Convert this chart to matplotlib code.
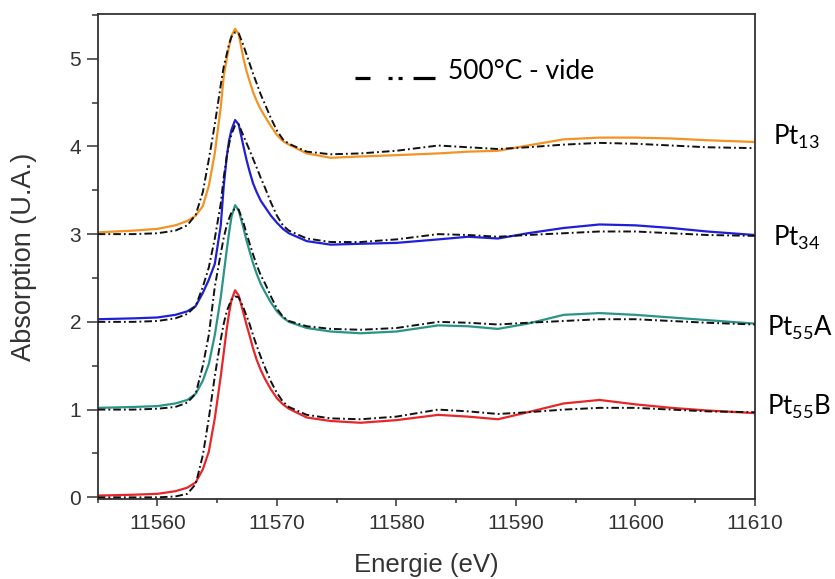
import numpy as np
import matplotlib
matplotlib.use("Agg")
import matplotlib.pyplot as plt
from matplotlib.ticker import MultipleLocator

plt.rcParams['lines.scale_dashes'] = False

# energy grid (eV)
energy = [11555, 11558, 11560, 11561.5, 11562.5, 11563.2, 11563.8, 11564.3, 11564.8,
          11565.3, 11565.55, 11565.8, 11566.0, 11566.2, 11566.5, 11566.8, 11567.2,
          11567.45, 11567.7, 11568.0, 11568.3, 11568.65, 11569.0, 11569.5, 11570.0,
          11570.5, 11571.0, 11572.5, 11574.5, 11577, 11580, 11583.5, 11586, 11588.5,
          11591, 11594, 11597, 11600, 11603, 11606, 11610]

# solid curves (already offset)
pt55b = [0.02, 0.03, 0.04, 0.07, 0.11, 0.17, 0.32, 0.52, 0.90, 1.38, 1.65, 1.92, 2.10, 2.25,
         2.36, 2.30, 2.10, 1.97, 1.85, 1.70, 1.57, 1.45, 1.35, 1.23, 1.13, 1.06, 1.01, 0.91,
         0.87, 0.85, 0.88, 0.94, 0.92, 0.89, 0.97, 1.07, 1.11, 1.06, 1.02, 0.99, 0.96]
pt55a = [1.02, 1.03, 1.04, 1.07, 1.11, 1.18, 1.33, 1.52, 1.85, 2.28, 2.55, 2.82, 3.02, 3.20,
         3.33, 3.27, 3.07, 2.93, 2.81, 2.67, 2.55, 2.43, 2.34, 2.22, 2.12, 2.05, 2.00, 1.93,
         1.89, 1.87, 1.89, 1.96, 1.95, 1.92, 1.98, 2.08, 2.10, 2.08, 2.05, 2.02, 1.98]
pt34 = [2.03, 2.04, 2.05, 2.08, 2.12, 2.18, 2.33, 2.48, 2.66, 3.10, 3.55, 3.88, 4.07, 4.19,
        4.30, 4.25, 4.00, 3.85, 3.72, 3.58, 3.48, 3.38, 3.31, 3.21, 3.13, 3.06, 3.01, 2.92,
        2.88, 2.89, 2.90, 2.94, 2.97, 2.95, 3.01, 3.07, 3.11, 3.10, 3.07, 3.03, 2.99]
pt13 = [3.02, 3.04, 3.06, 3.10, 3.15, 3.21, 3.32, 3.55, 3.92, 4.45, 4.80, 5.00, 5.14, 5.26,
        5.34, 5.28, 5.00, 4.86, 4.75, 4.62, 4.52, 4.42, 4.34, 4.23, 4.13, 4.06, 4.02, 3.92,
        3.87, 3.885, 3.90, 3.92, 3.94, 3.95, 4.01, 4.08, 4.10, 4.10, 4.09, 4.07, 4.05]

# 500°C - vide reference curves (dash-dot)
ref55b = [0.00, 0.00, 0.00, 0.01, 0.04, 0.15, 0.48, 0.90, 1.38, 1.80, 1.98, 2.12, 2.19, 2.25,
          2.29, 2.28, 2.16, 2.07, 1.98, 1.85, 1.73, 1.60, 1.48, 1.32, 1.19, 1.09, 1.03, 0.94,
          0.90, 0.89, 0.92, 1.00, 0.98, 0.95, 0.97, 1.00, 1.02, 1.02, 1.00, 0.98, 0.97]
ref55a = [1.00, 1.00, 1.01, 1.03, 1.08, 1.18, 1.50, 1.85, 2.40, 2.78, 2.96, 3.10, 3.18, 3.25,
          3.29, 3.28, 3.13, 3.01, 2.90, 2.77, 2.65, 2.53, 2.44, 2.29, 2.15, 2.06, 2.01, 1.95,
          1.92, 1.91, 1.93, 2.00, 1.99, 1.97, 1.99, 2.01, 2.03, 2.03, 2.01, 1.99, 1.97]
ref34 = [2.00, 2.00, 2.01, 2.04, 2.09, 2.18, 2.40, 2.62, 2.95, 3.35, 3.65, 3.88, 4.03, 4.14,
         4.24, 4.25, 4.12, 4.04, 3.96, 3.86, 3.76, 3.64, 3.53, 3.36, 3.21, 3.10, 3.04, 2.95,
         2.91, 2.91, 2.94, 3.00, 2.99, 2.97, 2.99, 3.01, 3.03, 3.03, 3.01, 2.99, 2.98]
ref13 = [3.00, 3.00, 3.01, 3.04, 3.10, 3.22, 3.48, 3.85, 4.25, 4.70, 4.91, 5.05, 5.17, 5.25,
         5.30, 5.29, 5.15, 5.05, 4.95, 4.83, 4.72, 4.59, 4.48, 4.32, 4.18, 4.08, 4.03, 3.94,
         3.91, 3.92, 3.95, 4.01, 3.99, 3.97, 3.99, 4.02, 4.04, 4.03, 4.01, 3.99, 3.98]

names = ["Pt$_\\mathregular{13}$", "Pt$_\\mathregular{34}$", "Pt$_\\mathregular{55}$A", "Pt$_\\mathregular{55}$B"]
label_x = [11611.5, 11611.5, 11611.0, 11611.0]
label_y = [4.02, 2.87, 1.85, 0.94]
colors = ["#F39323", "#1F1FD8", "#2A9488", "#E8262A"]

fig = plt.figure(figsize=(8.35, 5.79), dpi=100)
ax = fig.add_axes([0.117, 0.138, 0.787, 0.838])

solid = [pt13, pt34, pt55a, pt55b]
refs = [ref13, ref34, ref55a, ref55b]
for s, r, c in zip(solid, refs, colors):
    ax.plot(energy, s, color=c, lw=1.6, zorder=2)
    ax.plot(energy, r, color="#111111", lw=1.4, dashes=(5.5, 2.2, 1.3, 2.2), zorder=3)

ax.set_xlim(11555, 11610)
ax.set_ylim(-0.02, 5.51)
ax.xaxis.set_major_locator(MultipleLocator(10))
ax.xaxis.set_minor_locator(MultipleLocator(5))
ax.yaxis.set_major_locator(MultipleLocator(1))
ax.yaxis.set_minor_locator(MultipleLocator(0.5))
ax.tick_params(which='both', direction='out', width=1.1, color='#333333',
               labelsize=15, labelcolor='#333333')
ax.tick_params(axis='x', which='major', length=5, pad=6)
ax.tick_params(axis='x', which='minor', length=3)
ax.tick_params(axis='y', which='major', length=8, pad=4)
ax.tick_params(axis='y', which='minor', length=4)
for sp in ax.spines.values():
    sp.set_linewidth(1.3)
    sp.set_color('#333333')
for lab in ax.get_xticklabels() + ax.get_yticklabels():
    lab.set_family('Liberation Sans')

ax.set_xlabel("Energie (eV)", fontsize=18.5, family='Liberation Sans', color='#333333')
ax.set_ylabel("Absorption (U.A.)", fontsize=19.5, family='Liberation Sans', color='#333333')
ax.xaxis.set_label_coords(0.5, -0.112)
ax.yaxis.set_label_coords(-0.093, 0.5)

for n, x, y in zip(names, label_x, label_y):
    ax.text(x, y, n, fontsize=18.5, family='Lato', va='baseline', ha='left', clip_on=False)

# legend for the reference curves
ax.plot([0.391, 0.514], [0.868, 0.868], transform=ax.transAxes, color='black', lw=2.3,
        dashes=(10.8, 13, 2.9, 4.3, 2.9, 7.9, 30))
ax.text(0.533, 0.866, "500°C - vide", transform=ax.transAxes, fontsize=19, family='Lato',
        va='baseline', ha='left')

fig.savefig("out.png", dpi=100)
